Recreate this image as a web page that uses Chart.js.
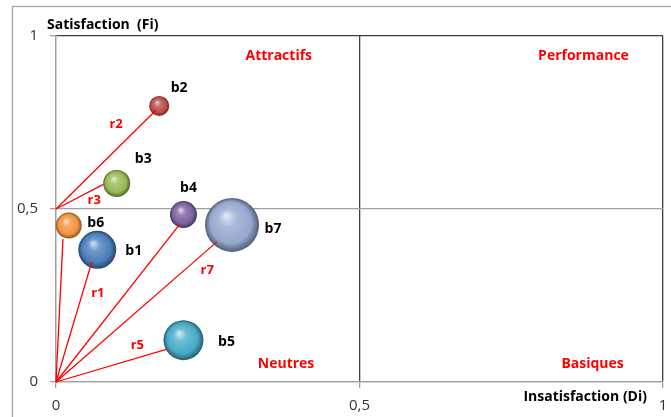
<!DOCTYPE html>
<html>
<head>
<meta charset="utf-8">
<script src="https://cdn.jsdelivr.net/npm/chart.js@4.4.1/dist/chart.umd.min.js"></script>
<style>
html, body { margin: 0; padding: 0; background: #fff; }
#wrap { width: 671px; height: 417px; }
</style>
</head>
<body>
<div id="wrap"><canvas id="kano"></canvas></div>
<script>
// Matrice Kano : insatisfaction (Di) / satisfaction (Fi)
const besoins = ['b1', 'b2', 'b3', 'b4', 'b5', 'b6', 'b7'];
const insatisfaction = [0.068, 0.170, 0.100, 0.210, 0.210, 0.021, 0.290];
const satisfaction = [0.382, 0.798, 0.574, 0.484, 0.121, 0.452, 0.454];
const poids = [19, 10, 13.5, 13.5, 20, 13, 27];

// segments r : depart (0 ; 0 ou 0,5) -> extremite
const rNoms = ['r1', 'r2', 'r3', 'r4', 'r5', 'r6', 'r7'];
const rDepartY = [0, 0.5, 0.5, 0, 0, 0, 0];
const rFinX = [0.059, 0.165, 0.078, 0.203, 0.183, 0.0115, 0.265];
const rFinY = [0.347, 0.786, 0.571, 0.454, 0.095, 0.413, 0.405];

const tickLabels = ['0', '0,5', '1'];
const quadrants = ['Attractifs', 'Performance', 'Neutres', 'Basiques'];

// mise en page (pas des donnees)
const couleurs = ['#4a7ebb', '#be4b48', '#98b954', '#7d60a0', '#46aac5', '#f69240', '#94a9cf'];
const quadPos = [[0.367, 0.941], [0.869, 0.941], [0.379, 0.053], [0.884, 0.053]];
const rLabelPos = { r1: [0.069, 0.257], r2: [0.099, 0.744], r3: [0.063, 0.526], r5: [0.134, 0.105], r7: [0.249, 0.324] };
const bLabelOffset = [[36.5, 1], [20, -18], [26.5, -24.5], [5, -27], [43, 2], [27, -3], [41, 4]];

const GRIS = '#a0a0a0';
const FONCE = '#404040';
const POLICE = "'Open Sans'";

function shade(hex, f) {
    const n = parseInt(hex.slice(1), 16);
    let rgb = [n >> 16, (n >> 8) & 255, n & 255];
    rgb = rgb.map(c => f >= 0 ? c + (255 - c) * f : c * (1 + f));
    return `rgb(${rgb.map(Math.round).join(',')})`;
}

// faux effet 3D des bulles
function sphere(context) {
    const chart = context.chart;
    const i = context.dataIndex;
    const base = couleurs[i];
    if (!chart.chartArea || context.type !== 'data') return base;
    const x = chart.scales.x.getPixelForValue(insatisfaction[i]);
    const y = chart.scales.y.getPixelForValue(satisfaction[i]);
    const r = poids[i];
    const g = chart.ctx.createRadialGradient(x - r * 0.22, y - r * 0.35, r * 0.04, x, y, r);
    g.addColorStop(0, shade(base, 0.7));
    g.addColorStop(0.3, shade(base, 0.2));
    g.addColorStop(0.75, base);
    g.addColorStop(1, shade(base, -0.45));
    return g;
}

const decor = {
    id: 'decor',
    beforeDraw(chart) {
        const c = chart.ctx;
        c.save();
        c.fillStyle = '#fff';
        c.fillRect(0, 0, chart.width, chart.height);
        c.strokeStyle = '#a6a6a6';
        c.lineWidth = 1.3;
        c.strokeRect(12.5, 6.5, chart.width + 20, chart.height + 20);
        c.restore();
    },
    afterDraw(chart) {
        const c = chart.ctx;
        const { x, y } = chart.scales;
        const area = chart.chartArea;
        c.save();
        c.textBaseline = 'middle';

        // titres des axes
        c.fillStyle = '#000';
        c.font = 'bold 14px ' + POLICE;
        c.textAlign = 'left';
        c.fillText('Satisfaction  (Fi)', area.left - 9, area.top - 11);
        c.textAlign = 'right';
        c.fillText('Insatisfaction (Di)', area.right - 16, area.bottom + 15.5);

        // quadrants
        c.fillStyle = '#ff0000';
        c.textAlign = 'center';
        quadrants.forEach((q, i) => {
            c.fillText(q, x.getPixelForValue(quadPos[i][0]), y.getPixelForValue(quadPos[i][1]));
        });

        // noms des segments
        c.font = 'bold 13px ' + POLICE;
        for (const [nom, p] of Object.entries(rLabelPos)) {
            c.fillText(nom, x.getPixelForValue(p[0]), y.getPixelForValue(p[1]));
        }

        // noms des besoins
        c.fillStyle = '#000';
        c.font = 'bold 14px ' + POLICE;
        besoins.forEach((b, i) => {
            const px = x.getPixelForValue(insatisfaction[i]) + bLabelOffset[i][0];
            const py = y.getPixelForValue(satisfaction[i]) + bLabelOffset[i][1];
            c.fillText(b, px, py);
        });
        c.restore();
    }
};

Chart.defaults.font.family = POLICE;

const datasets = [{
    type: 'bubble',
    label: 'besoins',
    data: besoins.map((b, i) => ({ x: insatisfaction[i], y: satisfaction[i], r: poids[i] })),
    backgroundColor: sphere,
    borderWidth: 0,
    hoverBorderWidth: 0,
    order: 1,
    clip: false
}];

rNoms.forEach((nom, i) => {
    datasets.push({
        type: 'line',
        label: nom,
        data: [{ x: 0, y: rDepartY[i] }, { x: rFinX[i], y: rFinY[i] }],
        borderColor: '#ff0000',
        borderWidth: 1.3,
        pointRadius: 0,
        fill: false,
        order: 0,
        clip: false
    });
});

new Chart(document.getElementById('kano'), {
    type: 'bubble',
    data: { datasets },
    options: {
        responsive: true,
        maintainAspectRatio: false,
        animation: false,
        events: [],
        layout: { autoPadding: false, padding: { top: 36, right: 8, left: 0, bottom: 0 } },
        plugins: {
            legend: { display: false },
            tooltip: { enabled: false }
        },
        scales: {
            x: {
                type: 'linear',
                min: 0,
                max: 1,
                afterFit: s => {
                    s.height = 35;
                    s.paddingLeft = 0;
                    s.paddingRight = 0;
                },
                ticks: {
                    stepSize: 0.5,
                    padding: 9,
                    color: '#333',
                    font: { size: 15 },
                    maxRotation: 0,
                    callback: (v, idx) => tickLabels[idx]
                },
                grid: {
                    color: ctx => ctx.tick && ctx.tick.value === 0 ? GRIS : FONCE,
                    lineWidth: 1.3,
                    tickLength: 6,
                    tickColor: GRIS
                },
                border: { display: true, color: GRIS, width: 1.3 }
            },
            y: {
                type: 'linear',
                min: 0,
                max: 1,
                afterFit: s => {
                    s.width = 56;
                    s.paddingTop = 0;
                    s.paddingBottom = 0;
                },
                ticks: {
                    stepSize: 0.5,
                    padding: 12,
                    color: '#333',
                    font: { size: 15 },
                    callback: (v, idx) => tickLabels[idx]
                },
                grid: {
                    color: ctx => ctx.tick && ctx.tick.value === 1 ? FONCE : GRIS,
                    lineWidth: 1.3,
                    tickLength: 6,
                    tickColor: GRIS
                },
                border: { display: true, color: GRIS, width: 1.3 }
            }
        }
    },
    plugins: [decor]
});
</script>
</body>
</html>
